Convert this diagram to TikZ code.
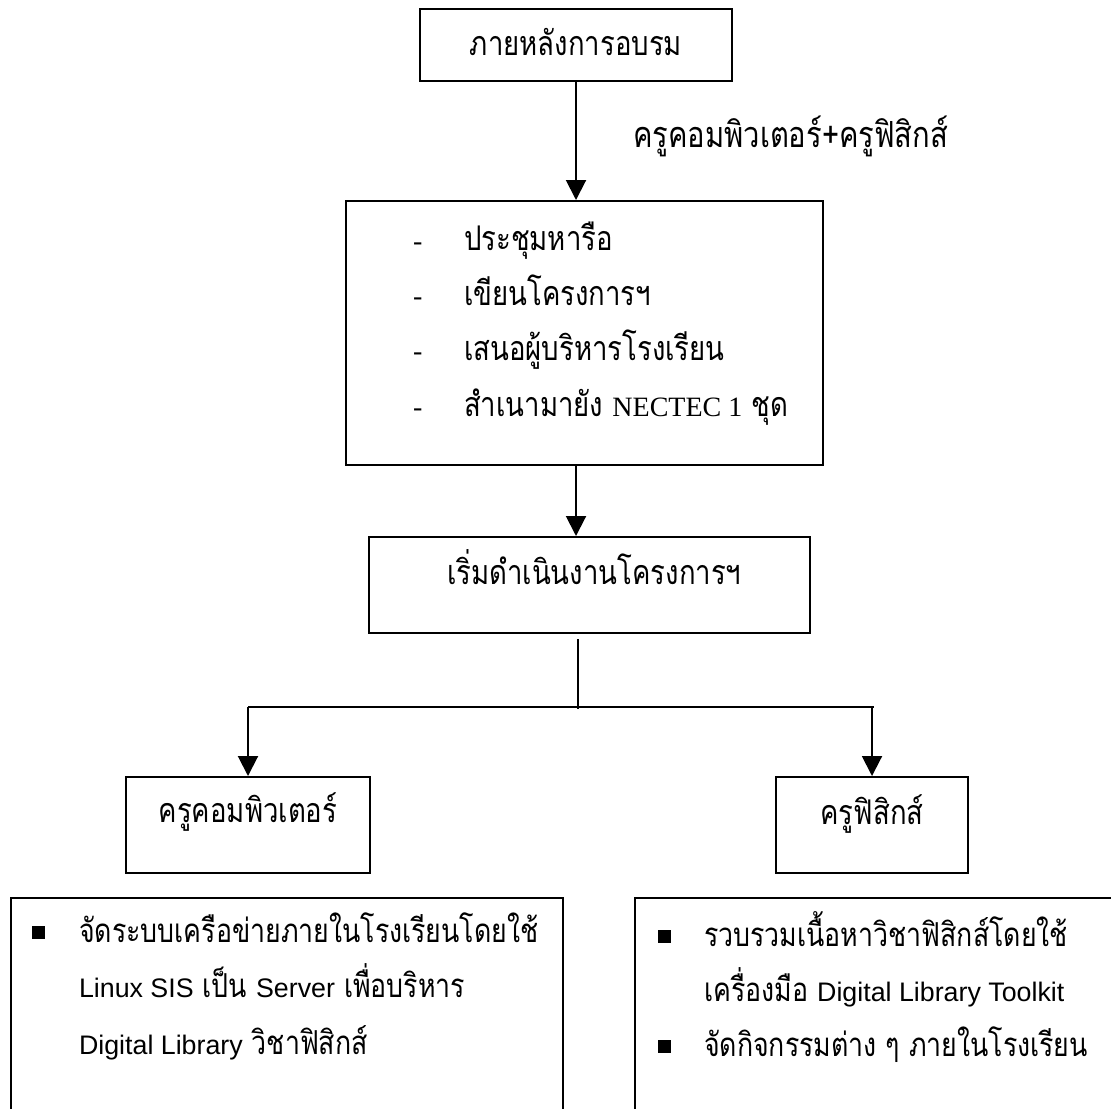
\documentclass[tikz,border=0pt]{standalone}
\usepackage{fontspec}
\setmainfont{Liberation Serif}
\newfontfamily\thai[Script=Thai,FakeStretch=0.81]{Loma}
\newfontfamily\lsans{Liberation Sans}
\usetikzlibrary{arrows.meta}
\newcommand{\latS}[1]{{\lsans\fontsize{13.4}{16}\selectfont #1}}
\newcommand{\latR}[1]{{\rmfamily\fontsize{14}{17}\selectfont #1}}
\begin{document}
\begin{tikzpicture}[x=0.5pt,y={(0pt,-0.5pt)},
  line width=1pt,
  box/.style={draw=black, line width=1pt, inner sep=0pt, fill=none},
  txt/.style={inner sep=0pt, font=\thai\fontsize{17}{20}\selectfont},
  ltxt/.style={txt, anchor=base west},
  btxt/.style={inner sep=0pt, font=\thai\fontsize{16.5}{20}\selectfont, anchor=base west},
  arr/.style={-{Triangle[length=10pt,width=10pt]}, line width=1pt},
  sq/.style={fill=black, inner sep=0pt, minimum size=6.5pt}]
\useasboundingbox (0,0) rectangle (1111,1108);
\clip (0,0) rectangle (1111,1108);
\fill[white] (0,0) rectangle (1111,1108);

% boxes
\node[box, minimum width=156pt, minimum height=36pt] (top) at (576,45) {};
\node[box, minimum width=238.5pt, minimum height=132pt] (b2) at (584.5,333) {};
\node[box, minimum width=220.5pt, minimum height=48pt] (b3) at (589.5,585) {};
\node[box, minimum width=122pt, minimum height=48pt] (comp) at (248,825) {};
\node[box, minimum width=96pt, minimum height=48pt] (phys) at (872,825) {};
\node[box, minimum width=276pt, minimum height=200pt, anchor=north west] (lb) at (10,897) {};
\node[box, minimum width=300pt, minimum height=200pt, anchor=north west] (rb) at (634,897) {};

% texts
\node[txt, anchor=base] (ttop) at (576,55) {ภายหลังการอบรม};
\node[ltxt, font=\thai\fontsize{18}{21}\selectfont] (lab) at (632,147) {ครูคอมพิวเตอร์+ครูฟิสิกส์};

\node[ltxt] (d1) at (412,250) {\latR{-}};
\node[ltxt] (d2) at (412,305) {\latR{-}};
\node[ltxt] (d3) at (412,360) {\latR{-}};
\node[ltxt] (d4) at (412,416) {\latR{-}};
\node[ltxt] (i1) at (463,250) {ประชุมหารือ};
\node[ltxt] (i2) at (463,305) {เขียนโครงการฯ};
\node[ltxt] (i3) at (463,360) {เสนอผู้บริหารโรงเรียน};
\node[ltxt] (i4) at (463,416) {สำเนามายัง \latR{NECTEC 1} ชุด};

\node[ltxt] (t3) at (446,584) {เริ่มดำเนินงานโครงการฯ};
\node[txt, anchor=base] (tcomp) at (248,822) {ครูคอมพิวเตอร์};
\node[txt, anchor=base] (tphys) at (872,824) {ครูฟิสิกส์};

\node[sq] (bl1) at (38,932) {};
\node[btxt] (l1) at (78,942) {จัดระบบเครือข่ายภายในโรงเรียนโดยใช้};
\node[btxt] (l2) at (78,997) {\latS{Linux SIS} เป็น \latS{Server} เพื่อบริหาร};
\node[btxt] (l3) at (78,1054) {\latS{Digital Library} วิชาฟิสิกส์};

\node[sq] (br1) at (664,936) {};
\node[sq] (br2) at (664,1046) {};
\node[btxt] (r1) at (703,946) {รวบรวมเนื้อหาวิชาฟิสิกส์โดยใช้};
\node[btxt] (r2) at (703,1001) {เครื่องมือ \latS{Digital Library Toolkit}};
\node[btxt] (r3) at (703,1056) {จัดกิจกรรมต่าง ๆ ภายในโรงเรียน};

% connectors
\draw[arr] (top.south) -- (top.south |- b2.north);
\draw[arr] (b2.south -| top.south) -- (b3.north -| top.south);
\coordinate (j) at (578,709);
\coordinate (hl) at (248,707);
\coordinate (hr) at (874,707);
\draw ([yshift=-2.5pt]b3.south -| j) -- (j);
\draw (hl) -- (hr);
\draw[arr] (hl) -- (comp.north);
\draw[arr] (hr -| phys.north) -- (phys.north);
\end{tikzpicture}
\end{document}
